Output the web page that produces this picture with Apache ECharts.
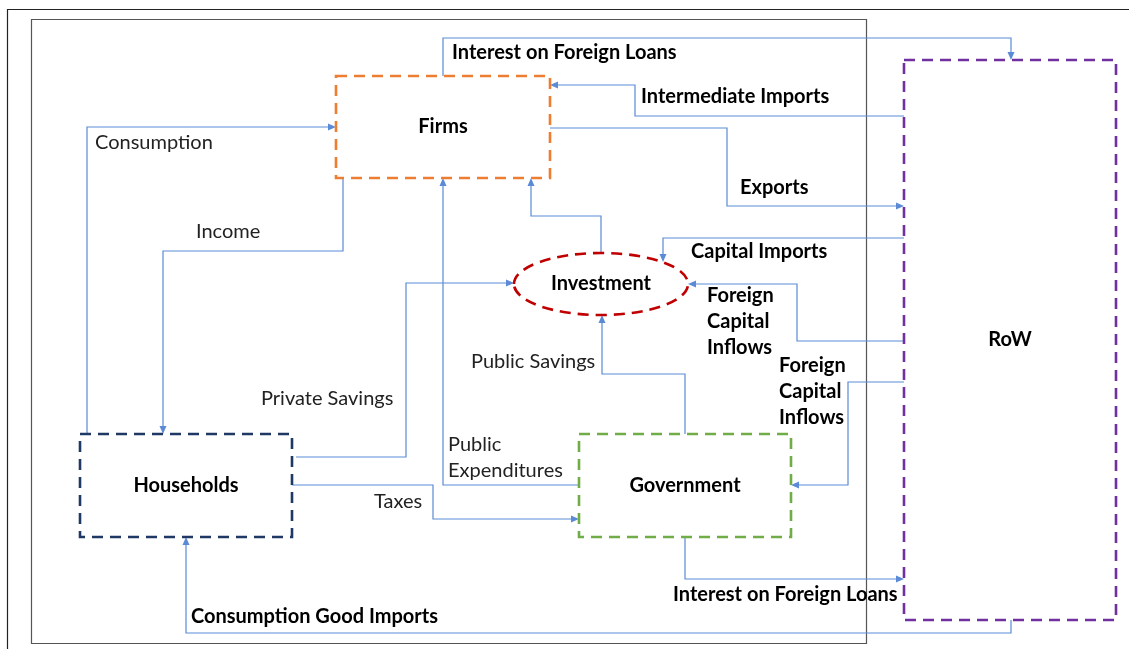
<!DOCTYPE html>
<html>
<head>
<meta charset="utf-8">
<script src="https://cdn.jsdelivr.net/npm/echarts@6/dist/echarts.min.js"></script>
<style>
  html, body { margin: 0; padding: 0; background: #fff; }
  #chart { width: 1129px; height: 649px; }
</style>
</head>
<body>
<div id="chart"></div>
<script>
// diagram space: x 0..1129 left->right, y 0..649 top->bottom
var nodeNames = ['Firms', 'RoW', 'Households', 'Government'];
var nodeBoxes = [
  [336, 76, 550, 178],
  [904, 60, 1116, 620],
  [80, 434, 292, 537],
  [579, 434, 791, 537]
];
var ellipseName = 'Investment';
var ellipseBox = [601, 284, 87, 31]; // cx, cy, rx, ry

var frames = [
  [7, 9, 1140, 660],
  [31, 19, 866, 643]
];

var edgePaths = [
  [[443, 76], [443, 38], [1011, 38], [1011, 60]],          // interest on foreign loans (firms)
  [[904, 116], [635, 116], [635, 85], [550, 85]],          // intermediate imports
  [[550, 128], [727, 128], [727, 206], [904, 206]],        // exports
  [[87, 434], [87, 127], [336, 127]],                      // consumption
  [[343, 178], [343, 251], [163, 251], [163, 434]],        // income
  [[296, 457], [406, 457], [406, 283], [514, 283]],        // private savings
  [[579, 485], [443, 485], [443, 178]],                    // public expenditures
  [[292, 485], [433, 485], [433, 519], [579, 519]],        // taxes
  [[685, 434], [685, 374], [602, 374], [602, 315]],        // public savings
  [[601, 253], [601, 216], [531, 216], [531, 178]],        // investment -> firms
  [[904, 238], [663, 238], [663, 262]],                    // capital imports
  [[904, 341], [797, 341], [797, 284], [688, 284]],        // foreign capital inflows -> investment
  [[904, 382], [848, 382], [848, 485], [791, 485]],        // foreign capital inflows -> government
  [[685, 537], [685, 579], [904, 579]],                    // interest on foreign loans (gov)
  [[1011, 620], [1011, 633], [186, 633], [186, 537]]       // consumption good imports
];

var edgeLabels = [
  'Interest on Foreign Loans', 'Intermediate Imports', 'Exports', 'Consumption', 'Income',
  'Private Savings', 'Public\nExpenditures', 'Taxes', 'Public Savings', 'Capital Imports',
  'Foreign\nCapital\nInflows', 'Foreign\nCapital\nInflows', 'Interest on Foreign Loans',
  'Consumption Good Imports'
];
var edgeLabelPos = [
  [452, 53], [641, 97], [740, 188], [95, 143], [196, 232],
  [261, 399], [448, 458], [374, 502], [471, 362], [691, 252],
  [707, 322], [779, 392], [673, 595], [191, 617]
];
var edgeLabelBold = [1, 1, 1, 0, 0, 0, 0, 0, 0, 1, 1, 1, 1, 1];

var nodeColors = ['#ED7D31', '#7030A0', '#203864', '#70AD47'];
var ellipseColor = '#C00000';
var flowColor = '#5B8BD6';
var fontFam = 'Lato, "Open Sans", sans-serif';

var chart = echarts.init(document.getElementById('chart'));

var option = {
  animation: false,
  backgroundColor: '#fff',
  grid: { left: 0, right: 0, top: 0, bottom: 0 },
  xAxis: { type: 'value', min: 0, max: 1129, show: false },
  yAxis: { type: 'value', min: 0, max: 649, inverse: true, show: false },
  series: [
    {
      // frames
      type: 'custom',
      silent: true,
      z: 1,
      data: frames,
      renderItem: function (params, api) {
        var a = api.coord([api.value(0), api.value(1)]);
        var b = api.coord([api.value(2), api.value(3)]);
        return {
          type: 'rect',
          shape: { x: a[0] + 0.5, y: a[1] + 0.5, width: b[0] - a[0], height: b[1] - a[1] },
          style: { fill: 'none', stroke: params.dataIndex == 0 ? '#222' : '#555', lineWidth: 1.2 }
        };
      }
    },
    {
      // flows with arrow heads
      type: 'custom',
      silent: true,
      z: 2,
      data: edgePaths.map(function (p) { return p[p.length - 1]; }),
      renderItem: function (params, api) {
        var path = edgePaths[params.dataIndex];
        var pts = path.map(function (q) { return api.coord(q); });
        var n = pts.length;
        var end = pts[n - 1], prev = pts[n - 2];
        var dx = end[0] - prev[0], dy = end[1] - prev[1];
        var len = Math.sqrt(dx * dx + dy * dy) || 1;
        var ux = dx / len, uy = dy / len;
        var L = 8, W = 3.5;
        var bx = end[0] - ux * L, by = end[1] - uy * L;
        var line = pts.slice(0, n - 1).concat([[bx, by]]);
        return {
          type: 'group',
          children: [
            {
              type: 'polyline',
              shape: { points: line },
              style: { fill: 'none', stroke: flowColor, lineWidth: 1.2 }
            },
            {
              type: 'polygon',
              shape: { points: [end, [bx - uy * W, by + ux * W], [bx + uy * W, by - ux * W]] },
              style: { fill: flowColor, stroke: 'none' }
            }
          ]
        };
      }
    },
    {
      // boxes
      type: 'custom',
      silent: true,
      z: 3,
      data: nodeBoxes,
      renderItem: function (params, api) {
        var i = params.dataIndex;
        var a = api.coord([api.value(0), api.value(1)]);
        var b = api.coord([api.value(2), api.value(3)]);
        return {
          type: 'group',
          children: [
            {
              type: 'rect',
              shape: { x: a[0], y: a[1], width: b[0] - a[0], height: b[1] - a[1] },
              style: { fill: 'none', stroke: nodeColors[i], lineWidth: 2.6, lineDash: [11, 7] }
            },
            {
              type: 'text',
              x: (a[0] + b[0]) / 2,
              y: (a[1] + b[1]) / 2,
              style: {
                text: nodeNames[i], align: 'center', verticalAlign: 'middle',
                fill: '#000', font: 'bold 20px ' + fontFam
              }
            }
          ]
        };
      }
    },
    {
      // investment ellipse
      type: 'custom',
      silent: true,
      z: 3,
      data: [ellipseBox],
      renderItem: function (params, api) {
        var c = api.coord([api.value(0), api.value(1)]);
        var e = api.coord([api.value(0) + api.value(2), api.value(1) + api.value(3)]);
        return {
          type: 'group',
          children: [
            {
              type: 'ellipse',
              shape: { cx: c[0], cy: c[1], rx: e[0] - c[0], ry: e[1] - c[1] },
              style: { fill: 'none', stroke: ellipseColor, lineWidth: 2.6, lineDash: [11, 7] }
            },
            {
              type: 'text',
              x: c[0], y: c[1],
              style: {
                text: ellipseName, align: 'center', verticalAlign: 'middle',
                fill: '#000', font: 'bold 20px ' + fontFam
              }
            }
          ]
        };
      }
    },
    {
      // flow labels
      type: 'custom',
      silent: true,
      z: 4,
      data: edgeLabelPos,
      renderItem: function (params, api) {
        var i = params.dataIndex;
        var p = api.coord([api.value(0), api.value(1)]);
        return {
          type: 'text',
          x: p[0], y: p[1],
          style: {
            text: edgeLabels[i], align: 'left', verticalAlign: 'middle',
            fill: edgeLabelBold[i] ? '#000' : '#222',
            font: (edgeLabelBold[i] ? 'bold ' : '') + '20px ' + fontFam,
            lineHeight: 26
          }
        };
      }
    }
  ]
};

chart.setOption(option);
</script>
</body>
</html>
